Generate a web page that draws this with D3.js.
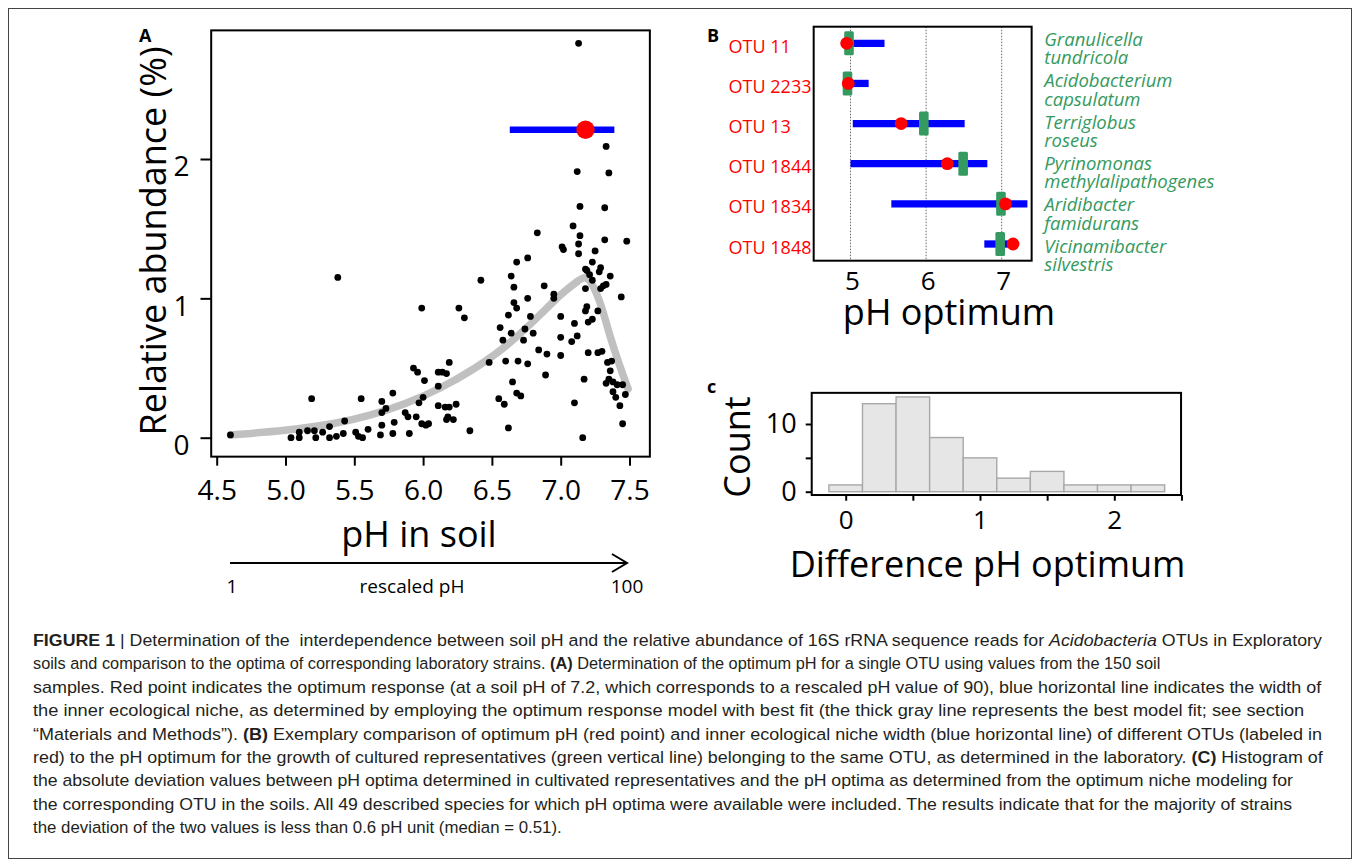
<!DOCTYPE html>
<html>
<head>
<meta charset="utf-8">
<script src="https://cdn.jsdelivr.net/npm/d3@7"></script>
<style>
  body { margin: 0; background: #fff; }
  svg text { font-family: "Open Sans", sans-serif; }
</style>
</head>
<body>
<div id="figure"></div>
<script>
// ---- panel A: soil samples (pH, relative abundance %)
const soilSamples = [
  [7.13, 2.83], [7.33, 2.09], [7.12, 1.91], [7.35, 1.90], [7.14, 1.66], [7.32, 1.65],
  [7.09, 1.52], [6.83, 1.47], [7.14, 1.45], [7.32, 1.42], [7.48, 1.41], [7.01, 1.37],
  [7.02, 1.35], [7.13, 1.39], [7.13, 1.32], [7.25, 1.34], [6.76, 1.29], [6.68, 1.26],
  [7.23, 1.26], [7.18, 1.21], [7.19, 1.20], [7.29, 1.22], [7.21, 1.17], [7.23, 1.13],
  [7.28, 1.19], [7.36, 1.16], [6.64, 1.16], [6.42, 1.13], [5.38, 1.15], [6.88, 1.09],
  [6.66, 1.08], [7.18, 1.07], [7.31, 1.09], [7.33, 1.10], [7.29, 1.07], [6.95, 1.03],
  [6.95, 1.00], [6.76, 1.00], [7.44, 1.01], [6.66, 0.97], [6.68, 0.93], [5.99, 0.93],
  [6.26, 0.93], [6.30, 0.86], [6.62, 0.88], [6.78, 0.87], [7.00, 0.87], [7.19, 0.94],
  [7.18, 0.91], [7.27, 0.91], [7.23, 0.85],
  [6.56, 0.79], [6.58, 0.70], [6.64, 0.75], [6.74, 0.78], [6.73, 0.70], [6.80, 0.75],
  [7.10, 0.82], [7.20, 0.83], [7.12, 0.73], [7.08, 0.69], [7.00, 0.72], [6.84, 0.63],
  [6.90, 0.60], [7.00, 0.59], [6.60, 0.55], [6.69, 0.55], [6.76, 0.53], [6.48, 0.54],
  [7.20, 0.61], [7.27, 0.61], [7.30, 0.62], [7.34, 0.54], [7.37, 0.55], [7.36, 0.48],
  [7.35, 0.42], [7.33, 0.39], [7.38, 0.40], [7.41, 0.38], [7.45, 0.38], [7.38, 0.33],
  [7.40, 0.29], [7.47, 0.31], [7.43, 0.23], [7.45, 0.10], [7.17, 0.42], [7.10, 0.25],
  [7.16, 0.00], [6.89, 0.45], [6.65, 0.40], [6.68, 0.32], [6.71, 0.30], [6.55, 0.28],
  [6.59, 0.24], [6.62, 0.07], [6.34, 0.05], [6.19, 0.54], [6.11, 0.47], [6.14, 0.47],
  [6.17, 0.46], [5.93, 0.50], [5.96, 0.47], [6.01, 0.41], [6.11, 0.37], [6.00, 0.29],
  [5.97, 0.25], [6.11, 0.23], [6.16, 0.22], [6.19, 0.22], [6.24, 0.24], [6.18, 0.15],
  [6.22, 0.13], [6.17, 0.13], [5.99, 0.10], [6.02, 0.09], [6.04, 0.10], [5.90, 0.03],
  [5.87, 0.18], [5.89, 0.15], [5.95, 0.15], [5.78, 0.32], [5.70, 0.26], [5.73, 0.21],
  [5.70, 0.18], [5.70, 0.09], [5.79, 0.11], [5.69, 0.02], [5.78, 0.03], [5.55, 0.28],
  [5.60, 0.06], [5.51, 0.04], [5.53, 0.01], [5.56, 0.00], [5.43, 0.12], [5.42, 0.03],
  [5.37, 0.01], [5.32, 0.08], [5.32, 0.00], [5.27, 0.04], [5.22, 0.00], [5.21, 0.05],
  [5.16, 0.05], [5.19, 0.28], [5.10, 0.04], [5.10, 0.00], [5.04, 0.00], [4.60, 0.02]
];
// best model fit (gray line)
const fitPH    = [4.60, 5.00, 5.37, 5.62, 5.87, 6.12, 6.37, 6.63, 6.88, 7.00, 7.13, 7.18, 7.23, 7.30, 7.35, 7.43, 7.49];
const fitAbund = [0.02, 0.05, 0.10, 0.16, 0.24, 0.35, 0.49, 0.67, 0.91, 1.03, 1.13, 1.16, 1.11, 0.94, 0.75, 0.51, 0.35];
const optimumA = {ph: 7.18, abund: 2.21, lo: 6.63, hi: 7.39};
const xTicksA = [4.5, 5.0, 5.5, 6.0, 6.5, 7.0, 7.5];
const yTicksA = [0, 1, 2];

// ---- panel B
const otuNames = ["OTU 11", "OTU 2233", "OTU 13", "OTU 1844", "OTU 1834", "OTU 1848"];
const speciesNames = [
  ["Granulicella", "tundricola"], ["Acidobacterium", "capsulatum"], ["Terriglobus", "roseus"],
  ["Pyrinomonas", "methylalipathogenes"], ["Aridibacter", "famidurans"], ["Vicinamibacter", "silvestris"]
];
const nicheLow  = [4.95, 4.95, 5.03, 5.00, 5.54, 6.77];
const nicheHigh = [5.45, 5.24, 6.51, 6.81, 7.34, 7.11];
const soilOptimum = [4.95, 4.97, 5.67, 6.28, 7.05, 7.15];
const labOptimum  = [4.98, 4.96, 5.97, 6.49, 6.99, 6.98];
const xTicksB = [5, 6, 7];

// ---- panel C: histogram of |difference|
const binStarts = [-0.125, 0.125, 0.375, 0.625, 0.875, 1.125, 1.375, 1.625, 1.875, 2.125];
const binWidth = 0.25;
const binCounts = [1, 13, 14, 8, 5, 2, 3, 1, 1, 1];
const xTicksC = [0, 0.5, 1, 1.5, 2, 2.5];
const yTicksC = [0, 5, 10];

// ---- caption
const captionLines = [
  [["FIGURE 1", "b"], [" | Determination of the  interdependence between soil pH and the relative abundance of 16S rRNA sequence reads for ", ""], ["Acidobacteria", "i"], [" OTUs in Exploratory", ""]],
  [["soils and comparison to the optima of corresponding laboratory strains. ", ""], ["(A)", "b"], [" Determination of the optimum pH for a single OTU using values from the 150 soil", ""]],
  [["samples. Red point indicates the optimum response (at a soil pH of 7.2, which corresponds to a rescaled pH value of 90), blue horizontal line indicates the width of", ""]],
  [["the inner ecological niche, as determined by employing the optimum response model with best fit (the thick gray line represents the best model fit; see section", ""]],
  [["\u201CMaterials and Methods\u201D). ", ""], ["(B)", "b"], [" Exemplary comparison of optimum pH (red point) and inner ecological niche width (blue horizontal line) of different OTUs (labeled in", ""]],
  [["red) to the pH optimum for the growth of cultured representatives (green vertical line) belonging to the same OTU, as determined in the laboratory. ", ""], ["(C)", "b"], [" Histogram of", ""]],
  [["the absolute deviation values between pH optima determined in cultivated representatives and the pH optima as determined from the optimum niche modeling for", ""]],
  [["the corresponding OTU in the soils. All 49 described species for which pH optima were available were included. The results indicate that for the majority of strains", ""]],
  [["the deviation of the two values is less than 0.6 pH unit (median = 0.51).", ""]]
];
const captionEnds = [1323, 1161, 1322, 1305, 1323, 1324, 1294, 1293, 562];

const width = 1358, height = 866;
const svg = d3.select("#figure").append("svg")
    .attr("width", width)
    .attr("height", height);

svg.append("rect")
    .attr("x", 8.5).attr("y", 8.5)
    .attr("width", 1343).attr("height", 850)
    .attr("fill", "none").attr("stroke", "#444").attr("stroke-width", 1);

function styleAxis(g, size) {
  g.select(".domain").remove();
  g.selectAll(".tick line").attr("stroke", "#000").attr("stroke-width", 2);
  g.selectAll(".tick text").attr("fill", "#000").style("font-size", size + "px")
      .style("font-family", "'Open Sans', sans-serif");
}

// ================= A =================
const xA = d3.scaleLinear().domain([4.5, 7.5]).range([216.7, 629.5]);
const yA = d3.scaleLinear().domain([0, 2]).range([437.7, 159]);
const boxA = {x0: xA(4.46), x1: xA(7.648), y0: yA(2.923), y1: yA(-0.136)};

const gA = svg.append("g");

gA.append("g")
    .attr("transform", `translate(0,${boxA.y1})`)
    .call(d3.axisBottom(xA).tickValues(xTicksA).tickFormat(d3.format(".1f")).tickSize(9).tickPadding(14))
    .call(g => styleAxis(g, 28));

gA.append("g")
    .attr("transform", `translate(${boxA.x0},0)`)
    .call(d3.axisLeft(yA).tickValues(yTicksA).tickFormat(d3.format("d")).tickSize(10.7).tickPadding(11))
    .call(g => styleAxis(g, 28))
    .call(g => g.selectAll(".tick text").attr("dy", "0.6em"));

gA.append("path")
    .datum(fitPH.map((p, i) => [p, fitAbund[i]]))
    .attr("fill", "none")
    .attr("stroke", "#c0c0c0")
    .attr("stroke-width", 7.5)
    .attr("stroke-linecap", "round")
    .attr("d", d3.line().curve(d3.curveBasis).x(d => xA(d[0])).y(d => yA(d[1])));

gA.selectAll("circle.sample")
  .data(soilSamples)
  .join("circle")
    .attr("class", "sample")
    .attr("cx", d => xA(d[0]))
    .attr("cy", d => yA(d[1]))
    .attr("r", 3.4)
    .attr("fill", "#000");

gA.append("line")
    .attr("x1", xA(optimumA.lo)).attr("x2", xA(optimumA.hi))
    .attr("y1", yA(optimumA.abund)).attr("y2", yA(optimumA.abund))
    .attr("stroke", "#0000ff").attr("stroke-width", 6.7);
gA.append("circle")
    .attr("cx", xA(optimumA.ph)).attr("cy", yA(optimumA.abund))
    .attr("r", 9.2).attr("fill", "#ff0000");

gA.append("rect")
    .attr("x", boxA.x0).attr("y", boxA.y0)
    .attr("width", boxA.x1 - boxA.x0).attr("height", boxA.y1 - boxA.y0)
    .attr("fill", "none").attr("stroke", "#000").attr("stroke-width", 2);

gA.append("text")
    .attr("transform", "translate(166,241) rotate(-90)")
    .attr("text-anchor", "middle")
    .style("font-size", "36px")
    .text("Relative abundance (%)");

gA.append("text")
    .attr("x", 419).attr("y", 547)
    .attr("text-anchor", "middle")
    .style("font-size", "36px")
    .text("pH in soil");

// rescaled pH arrow
gA.append("line")
    .attr("x1", 230).attr("x2", 627).attr("y1", 563).attr("y2", 563)
    .attr("stroke", "#000").attr("stroke-width", 2);
gA.append("path")
    .attr("d", "M612,554 L627,563 L612,572")
    .attr("fill", "none").attr("stroke", "#000").attr("stroke-width", 2);
[["1", 232], ["rescaled pH", 412], ["100", 627]].forEach(([t, x]) => {
  gA.append("text").attr("x", x).attr("y", 593).attr("text-anchor", "middle")
      .style("font-size", "19px").text(t);
});

gA.append("text").attr("x", 139).attr("y", 42)
    .style("font-size", "18px").style("font-weight", "bold").text("A");

// ================= B =================
const xB = d3.scaleLinear().domain([5, 7]).range([850.5, 1001.7]);
const yB = d3.scalePoint().domain(otuNames).range([43.3, 244]);
const ySpecies = d3.scalePoint().domain(otuNames).range([46, 252.5]);
const boxB = {x0: xB(4.513), x1: xB(7.396), y0: 26.7, y1: 260.7};
const gB = svg.append("g");

gB.selectAll("line.grid")
  .data(xTicksB)
  .join("line")
    .attr("class", "grid")
    .attr("x1", d => xB(d)).attr("x2", d => xB(d))
    .attr("y1", boxB.y0).attr("y2", boxB.y1)
    .attr("stroke", "#444").attr("stroke-width", 0.8)
    .attr("stroke-dasharray", "1.5,1.5");

gB.selectAll("line.niche")
  .data(otuNames)
  .join("line")
    .attr("class", "niche")
    .attr("x1", (d, i) => xB(nicheLow[i])).attr("x2", (d, i) => xB(nicheHigh[i]))
    .attr("y1", d => yB(d)).attr("y2", d => yB(d))
    .attr("stroke", "#0000ff").attr("stroke-width", 7.3);

gB.selectAll("rect.lab")
  .data(otuNames)
  .join("rect")
    .attr("class", "lab")
    .attr("x", (d, i) => xB(labOptimum[i]) - 4.8)
    .attr("y", d => yB(d) - 12)
    .attr("width", 9.6).attr("height", 24)
    .attr("rx", 1.5)
    .attr("fill", "#359a60");

gB.selectAll("circle.soil")
  .data(otuNames)
  .join("circle")
    .attr("class", "soil")
    .attr("cx", (d, i) => xB(soilOptimum[i]))
    .attr("cy", d => yB(d))
    .attr("r", 6.4)
    .attr("fill", "#ff0000");

gB.append("rect")
    .attr("x", boxB.x0).attr("y", boxB.y0)
    .attr("width", boxB.x1 - boxB.x0).attr("height", boxB.y1 - boxB.y0)
    .attr("fill", "none").attr("stroke", "#000").attr("stroke-width", 2);

gB.selectAll("text.otu")
  .data(otuNames)
  .join("text")
    .attr("class", "otu")
    .attr("x", 728.6)
    .attr("y", d => yB(d) + 9.5)
    .attr("fill", "#ff0000")
    .style("font-size", "18px")
    .text(d => d);

gB.selectAll("text.species")
  .data(otuNames)
  .join("text")
    .attr("class", "species")
    .attr("x", 1044.3)
    .attr("y", d => ySpecies(d))
    .attr("fill", "#359a60")
    .style("font-size", "18.5px")
    .style("font-style", "italic")
    .selectAll("tspan")
    .data((d, i) => speciesNames[i])
    .join("tspan")
      .attr("x", 1044.3)
      .attr("dy", (d, j) => j === 0 ? 0 : 18.3)
      .text(d => d);

gB.selectAll("text.xtick")
  .data(xTicksB)
  .join("text")
    .attr("class", "xtick")
    .attr("x", d => xB(d) + 2)
    .attr("y", 290)
    .attr("text-anchor", "middle")
    .style("font-size", "26px")
    .text(d => d);

gB.append("text")
    .attr("x", 949).attr("y", 325)
    .attr("text-anchor", "middle")
    .style("font-size", "36px")
    .text("pH optimum");

gB.append("text").attr("x", 707).attr("y", 42)
    .style("font-size", "18px").style("font-weight", "bold").text("B");

// ================= C =================
const xC = d3.scaleLinear().domain([0, 2]).range([845.7, 1114.3]);
const yC = d3.scaleLinear().domain([0, 10]).range([491.7, 424]);
const boxC = {x0: xC(-0.253), x1: xC(2.497), y0: yC(14.6), y1: yC(-0.49)};
const gC = svg.append("g");

gC.selectAll("rect.bin")
  .data(binCounts)
  .join("rect")
    .attr("class", "bin")
    .attr("x", (d, i) => xC(binStarts[i]))
    .attr("width", xC(binWidth) - xC(0))
    .attr("y", d => yC(d))
    .attr("height", d => yC(0) - yC(d))
    .attr("fill", "#e6e6e6")
    .attr("stroke", "#a8a8a8")
    .attr("stroke-width", 1.4);

gC.append("g")
    .attr("transform", `translate(0,${boxC.y1})`)
    .call(d3.axisBottom(xC).tickValues(xTicksC).tickSize(5.7).tickPadding(10)
        .tickFormat(d => Number.isInteger(d) ? d : ""))
    .call(g => styleAxis(g, 26));

gC.append("g")
    .attr("transform", `translate(${boxC.x0},0)`)
    .call(d3.axisLeft(yC).tickValues(yTicksC).tickSize(6).tickPadding(9)
        .tickFormat(d => d === 5 ? "" : d))
    .call(g => styleAxis(g, 27));

gC.append("rect")
    .attr("x", boxC.x0).attr("y", boxC.y0)
    .attr("width", boxC.x1 - boxC.x0).attr("height", boxC.y1 - boxC.y0)
    .attr("fill", "none").attr("stroke", "#000").attr("stroke-width", 2);

gC.append("text")
    .attr("transform", "translate(750,447) rotate(-90)")
    .attr("text-anchor", "middle")
    .style("font-size", "36px")
    .text("Count");

gC.append("text")
    .attr("x", 987.5).attr("y", 577)
    .attr("text-anchor", "middle")
    .style("font-size", "36px")
    .text("Difference pH optimum");

gC.append("text").attr("x", 707).attr("y", 393)
    .style("font-size", "18px").style("font-weight", "bold").text("c");

// ================= caption =================
// each line is squeezed horizontally to its width in the figure
const cap = svg.append("g");
captionLines.forEach((segs, i) => {
  const t = cap.append("text")
      .attr("xml:space", "preserve")
      .attr("fill", "#231f20")
      .style("font-family", "'Liberation Sans Narrow', 'Liberation Sans', Arial, sans-serif")
      .style("font-size", "17px");
  segs.forEach(([s, st]) => {
    t.append("tspan")
        .style("font-weight", st === "b" ? "bold" : "normal")
        .style("font-style", st === "i" ? "italic" : "normal")
        .text(s);
  });
  const natural = t.node().getComputedTextLength();
  const k = (captionEnds[i] - 33) / natural;
  t.attr("transform", `translate(33,${646 + i * 23.4}) scale(${k},1)`);
});
</script>
</body>
</html>
